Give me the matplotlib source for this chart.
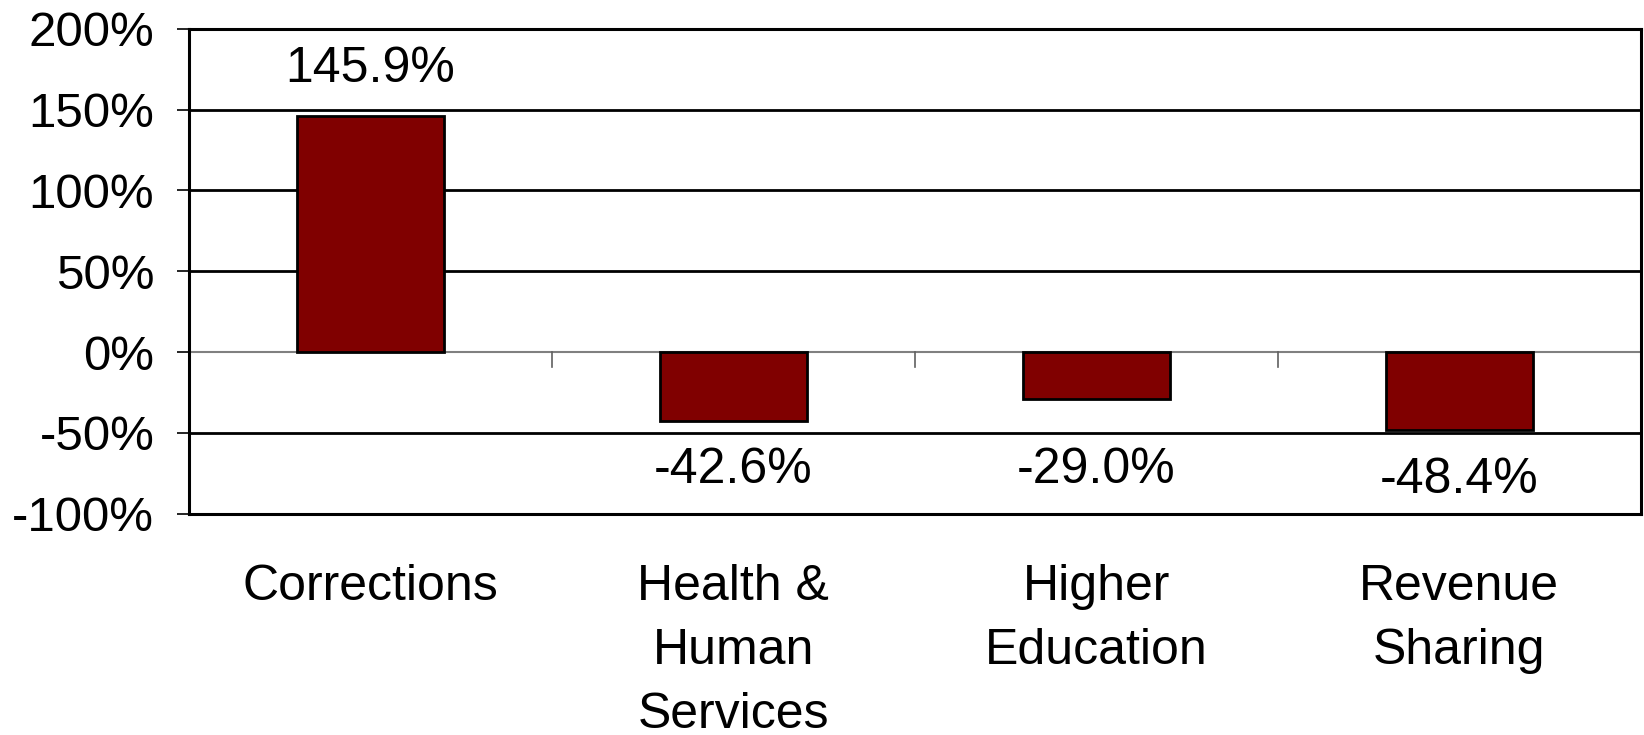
import matplotlib.pyplot as plt
import numpy as np

plt.rcParams['font.family'] = ['Liberation Sans', 'DejaVu Sans']

categories = ['Corrections', 'Health &\nHuman\nServices', 'Higher\nEducation', 'Revenue\nSharing']
values = [145.9, -42.6, -29.0, -48.4]
labels = ['145.9%', '-42.6%', '-29.0%', '-48.4%']
# where the value labels sit (data units)
label_y = [175, -73, -73, -79]

fig = plt.figure(figsize=(16.44, 7.35), dpi=100)
ax = fig.add_axes([0.115, 0.301, 0.883, 0.66])

x = np.arange(len(categories))
ax.bar(x, values, width=0.405, color='#800000', edgecolor='black', linewidth=2, zorder=3)

for xi, yi, t in zip(x, label_y, labels):
    ax.text(xi, yi, t, ha='center', va='center', fontsize=36)

ax.set_xlim(-0.5, 3.5)
ax.set_ylim(-100, 200)
ax.set_yticks([-100, -50, 0, 50, 100, 150, 200])
ax.set_yticklabels(['-100%', '-50%', '0%', '50%', '100%', '150%', '200%'], fontsize=35.5)
ax.tick_params(axis='y', length=9, width=1.2, pad=16)

for g in [-50, 50, 100, 150]:
    ax.axhline(g, color='black', linewidth=2, zorder=1)
ax.axhline(0, color='#808080', linewidth=1.5, zorder=2)

# category separators under the zero line
for b in [0.5, 1.5, 2.5]:
    ax.plot([b, b], [0, -9], color='#606060', linewidth=1.2, zorder=2)

ax.set_xticks(x)
ax.set_xticklabels(categories, fontsize=36, linespacing=1.5, va='top')
ax.tick_params(axis='x', length=0, pad=36)

for s in ax.spines.values():
    s.set_linewidth(2.2)

fig.savefig('out.png', dpi=100)
